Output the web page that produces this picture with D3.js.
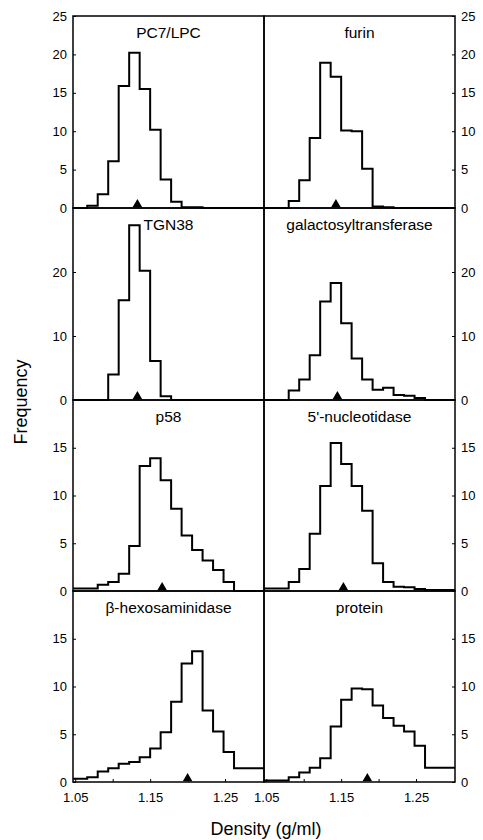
<!DOCTYPE html>
<html>
<head>
<meta charset="utf-8">
<script src="https://cdn.jsdelivr.net/npm/d3@7"></script>
<style>
  body { margin: 0; background: #fff; }
  svg { display: block; font-family: Arial, "Liberation Sans", Helvetica, sans-serif; }
</style>
</head>
<body>
<svg id="chart" width="483" height="840"></svg>
<script>
// gradient fraction edges (g/ml), same for every panel
const binEdges = [1.047, 1.066, 1.080, 1.094, 1.108, 1.122, 1.136, 1.150, 1.164,
                  1.178, 1.192, 1.206, 1.220, 1.234, 1.248, 1.262, 1.302];

// frequency per fraction
const pc7lpc = [0, 0.3, 1.8, 6.1, 15.9, 20.2, 15.5, 10.2, 3.7, 0.8, 0.1, 0.1, 0, 0, 0, 0];
const furin = [0, 0, 0.9, 3.6, 9.1, 18.9, 17.1, 10.1, 10.0, 5.1, 0.2, 0.1, 0, 0, 0, 0];
const tgn38 = [0, 0, 0, 4.0, 15.6, 27.3, 20.2, 6.1, 0.6, 0, 0, 0, 0, 0, 0, 0];
const galT = [0, 0, 1.5, 3.2, 7.0, 15.4, 18.3, 12.0, 6.5, 3.2, 1.6, 1.9, 0.8, 0.65, 0.3, 0];
const p58 = [0.25, 0.25, 0.65, 0.95, 1.8, 4.7, 13.1, 13.9, 11.6, 8.6, 5.8, 4.3, 3.2, 2.2, 0.95, 0];
const nucleotidase = [0.25, 0.25, 0.95, 2.3, 6.0, 11.0, 15.5, 13.3, 11.0, 8.4, 2.9, 0.95, 0.45, 0.4, 0.2, 0.1];
const betaHex = [0.35, 0.5, 1.1, 1.45, 1.9, 2.1, 2.6, 3.5, 5.2, 8.4, 12.4, 13.7, 7.5, 5.3, 3.15, 1.45];
const protein = [0.15, 0.15, 0.5, 1.0, 1.5, 2.5, 5.8, 8.6, 9.8, 9.7, 8.0, 6.7, 5.9, 5.3, 3.8, 1.5];

// row-major order: left, right
const titles = ["PC7/LPC", "furin", "TGN38", "galactosyltransferase",
                "p58", "5'-nucleotidase", "\u03b2-hexosaminidase", "protein"];
const series = [pc7lpc, furin, tgn38, galT, p58, nucleotidase, betaHex, protein];
// mean density (triangle markers)
const means = [1.133, 1.143, 1.133, 1.145, 1.166, 1.153, 1.200, 1.185];

const yMax = [25, 30, 20, 20];
const yTicks = [[0, 5, 10, 15, 20, 25], [0, 10, 20], [0, 5, 10, 15], [0, 5, 10, 15]];
const xTicks = [1.05, 1.10, 1.15, 1.20, 1.25];
const xLabels = [1.05, 1.15, 1.25];
const xDomain = [1.047, 1.302];

// layout
const colX = [73, 264, 455];
const rowY = [16, 208, 400, 591, 782];

const svg = d3.select('#chart');

function styleAxis(g) {
    g.select('.domain').remove();
    g.selectAll('line').attr('stroke', '#000').attr('stroke-width', 1);
    g.selectAll('text').attr('font-size', 13).attr('fill', '#000')
        .attr('font-family', 'Arial, "Liberation Sans", sans-serif');
}

series.forEach((values, i) => {
    const row = Math.floor(i / 2);
    const col = i % 2;
    const left = colX[col], right = colX[col + 1];
    const top = rowY[row], bottom = rowY[row + 1];

    const x = d3.scaleLinear().domain(xDomain).range([left, right]);
    const y = d3.scaleLinear().domain([0, yMax[row]]).range([bottom, top]);

    // step outline
    const pts = [];
    values.forEach((v, k) => {
        pts.push([binEdges[k], v]);
        pts.push([binEdges[k + 1], v]);
    });
    const line = d3.line().x(d => x(d[0])).y(d => y(d[1]));

    svg.append('path')
        .attr('d', line(pts))
        .attr('fill', 'none')
        .attr('stroke', '#000')
        .attr('stroke-width', 2)
        .attr('stroke-linejoin', 'miter');

    // mean marker
    const triSize = 40;
    const tri = d3.symbol(d3.symbolTriangle).size(triSize);
    const r = Math.sqrt(triSize / (Math.sqrt(3) * 3));
    svg.append('path')
        .attr('d', tri())
        .attr('transform', `translate(${x(means[i])},${y(0) - r - 0.8})`)
        .attr('fill', '#000');

    // y axis on outer side
    if (col === 0) {
        svg.append('g')
            .attr('transform', `translate(${left},0)`)
            .call(d3.axisLeft(y).tickValues(yTicks[row]).tickSize(-3).tickPadding(6))
            .call(styleAxis);
    } else {
        svg.append('g')
            .attr('transform', `translate(${right},0)`)
            .call(d3.axisRight(y).tickValues(yTicks[row]).tickSize(-3).tickPadding(6))
            .call(styleAxis);
    }

    // density axis under the bottom row
    if (row === 3) {
        svg.append('g')
            .attr('transform', `translate(0,${bottom})`)
            .call(d3.axisBottom(x).tickValues(xTicks).tickSize(-3).tickPadding(11)
                .tickFormat(d => xLabels.some(l => Math.abs(l - d) < 1e-6) ? d3.format('.2f')(d) : ''))
            .call(styleAxis);
    }

    // panel frame
    svg.append('rect')
        .attr('x', left).attr('y', top)
        .attr('width', right - left).attr('height', bottom - top)
        .attr('fill', 'none')
        .attr('stroke', '#000')
        .attr('stroke-width', 1.5);

    svg.append('text')
        .attr('x', (left + right) / 2)
        .attr('y', top + 22)
        .attr('text-anchor', 'middle')
        .attr('font-size', 15.5)
        .text(titles[i]);
});

svg.append('text')
    .attr('transform', 'translate(27,402) rotate(-90)')
    .attr('text-anchor', 'middle')
    .attr('font-size', 18)
    .text('Frequency');

svg.append('text')
    .attr('x', 266)
    .attr('y', 835)
    .attr('text-anchor', 'middle')
    .attr('font-size', 18)
    .text('Density (g/ml)');
</script>
</body>
</html>
